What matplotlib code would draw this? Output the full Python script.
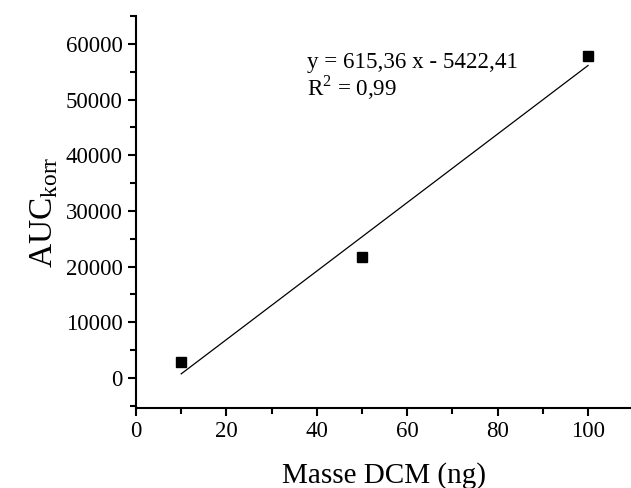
import matplotlib.pyplot as plt
from matplotlib.ticker import MultipleLocator
import numpy as np

plt.rcParams['font.family'] = ['Liberation Serif', 'DejaVu Serif']
plt.rcParams['mathtext.fontset'] = 'custom'
plt.rcParams['mathtext.rm'] = 'Liberation Serif'

# -- Measured data -- #
mass = [10, 50, 100]
auc = [2800, 21700, 57800]
slope = 615.36
intercept = -5422.41
r2 = 0.99

fig = plt.figure(figsize=(6.31, 4.88), dpi=100)
ax = fig.add_axes([136 / 631, 80 / 488, 495 / 631, 392 / 488])

ax.plot(mass, auc, 's', color='black', markersize=6.5)

# linear fit line over the data range
xf = np.array([min(mass), max(mass)])
ax.plot(xf, slope * xf + intercept, color='black', linewidth=0.9)

ax.text(37.8, 55700, 'y = 615,36 x - 5422,41', fontsize=16.6)
ax.text(37.8, 50800, r'R$^{\mathregular{2}}$ = 0,99', fontsize=16.6)

ax.set_xlim(0, 109.5)
ax.set_ylim(-5400, 65000)
ax.xaxis.set_major_locator(MultipleLocator(20))
ax.xaxis.set_minor_locator(MultipleLocator(10))
ax.yaxis.set_major_locator(MultipleLocator(10000))
ax.yaxis.set_minor_locator(MultipleLocator(5000))
ax.spines['top'].set_visible(False)
ax.spines['right'].set_visible(False)
for s in ['left', 'bottom']:
    ax.spines[s].set_linewidth(1.5)
ax.tick_params(which='major', direction='out', length=6, width=1.5, labelsize=16.5)
ax.tick_params(which='minor', direction='out', length=4, width=1.5)

ax.set_xlabel('Masse DCM (ng)', fontsize=21, labelpad=14)
ax.set_ylabel(r'AUC$_{\mathregular{korr}}$', fontsize=24, labelpad=4)

fig.savefig('out.png', dpi=100)
